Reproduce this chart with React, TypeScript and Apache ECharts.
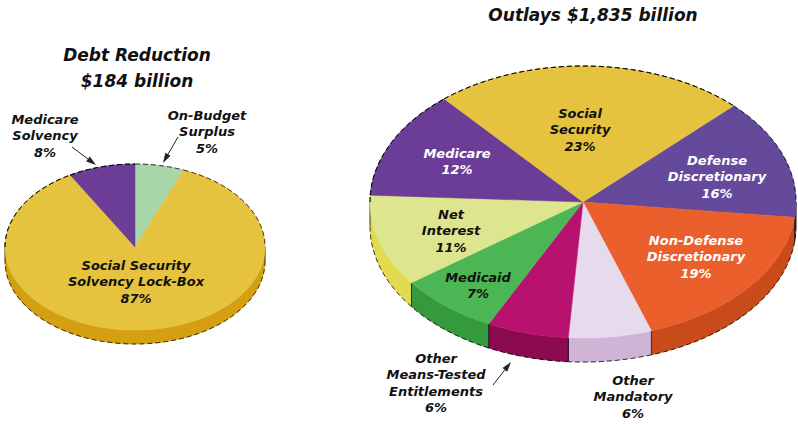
import React, { useEffect, useRef } from "react";
import * as echarts from "echarts";

const leftNames = ["On-Budget Surplus", "Social Security Solvency Lock-Box", "Medicare Solvency"];
const leftShares = [6.1, 85.6, 8.3];
const leftColors = ["#a7d6a8", "#e5c33e", "#6c3d97"];
const leftWalls = ["#7fb481", "#d4a012", "#4e2c70"];

const rightNames = ["Defense Discretionary", "Non-Defense Discretionary", "Other Mandatory", "Other Means-Tested Entitlements", "Medicaid", "Net Interest", "Medicare", "Social Security"];
const rightShares = [14.3, 18.0, 6.3, 6.2, 7.6, 10.9, 12.9, 23.8];
const rightColors = ["#654a9c", "#ea5f2b", "#e6dbec", "#b8126e", "#4cb654", "#dde58f", "#6c3d97", "#e5c33e"];
const rightWalls = ["#4e3a80", "#c94b1b", "#cfb5d5", "#8c0a4f", "#359a3e", "#e3db4f", "#4e2c70", "#d4a012"];

const FONT = "'DejaVu Sans'";
const titleStyle = { fontFamily: FONT, fontStyle: "italic", fontWeight: 700, fontSize: 17 };
const labelStyle = { fontFamily: FONT, fontStyle: "italic", fontWeight: 700, fontSize: 13 };

type Pie = { cx: number; cy: number; rx: number; ry: number; depth: number; start: number };
const leftPie: Pie = { cx: 135, cy: 247, rx: 130, ry: 83, depth: 14, start: 0 };
const rightPie: Pie = { cx: 583, cy: 202, rx: 213, ry: 136, depth: 24, start: 45 };

function pt(p: Pie, deg: number, dy = 0): number[] {
  const r = (deg * Math.PI) / 180;
  return [p.cx + p.rx * Math.sin(r), p.cy - p.ry * Math.cos(r) + dy];
}
function arc(p: Pie, a: number, b: number, dy = 0): number[][] {
  const out: number[][] = [];
  const n = Math.max(1, Math.ceil(b - a));
  for (let i = 0; i <= n; i++) out.push(pt(p, a + ((b - a) * i) / n, dy));
  return out;
}
function pieSeries(p: Pie, names: string[], shares: number[], colors: string[], walls: string[]) {
  const total = shares.reduce((s, v) => s + v, 0);
  const bounds: number[] = [p.start];
  shares.forEach((v) => bounds.push(bounds[bounds.length - 1] + (v / total) * 360));
  const data = names.map((name, i) => ({ name, value: [shares[i]] }));
  const frontRange = (a: number, b: number): number[] | null => {
    for (const k of [0, 360]) {
      const s = Math.max(a, 90 + k);
      const e = Math.min(b, 270 + k);
      if (e > s) return [s, e];
    }
    return null;
  };
  const wall = {
    type: "custom" as const,
    coordinateSystem: "none",
    silent: true,
    z: 1,
    data,
    renderItem: (params: any) => {
      const i = params.dataIndex;
      const children: any[] = [];
      const r = frontRange(bounds[i], bounds[i + 1]);
      if (r) {
        const pts = [...arc(p, r[0], r[1]), ...arc(p, r[0], r[1], p.depth).reverse()];
        children.push({ type: "polygon", shape: { points: pts }, style: { fill: walls[i], stroke: walls[i], lineWidth: 0.5 } });
        children.push({ type: "polyline", shape: { points: arc(p, r[0], r[1], p.depth) }, style: { fill: "none", stroke: "#000", lineWidth: 0.8, lineDash: [5, 3] } });
        [r[0], r[1]].forEach((d) => {
          const a = pt(p, d);
          children.push({ type: "line", shape: { x1: a[0], y1: a[1], x2: a[0], y2: a[1] + p.depth }, style: { stroke: "#111", lineWidth: 0.8 } });
        });
      }
      return { type: "group", children };
    },
  };
  const top = {
    type: "custom" as const,
    coordinateSystem: "none",
    silent: true,
    z: 2,
    data,
    renderItem: (params: any) => {
      const i = params.dataIndex;
      const a = bounds[i];
      const b = bounds[i + 1];
      const children: any[] = [
        { type: "polygon", shape: { points: [[p.cx, p.cy], ...arc(p, a, b)] }, style: { fill: colors[i], stroke: colors[i], lineWidth: 0.5 } },
      ];
      // dashed outline on the rear edge of the top face
      const rearA = [a, Math.min(b, 90)];
      const rearB = [Math.max(a, 270), b];
      const rearC = [Math.max(a, 270), Math.min(b, 450)];
      [rearA, rearB, rearC].forEach((q, k) => {
        if (k === 1 && b > 450) return;
        if (q[1] > q[0]) children.push({ type: "polyline", shape: { points: arc(p, q[0], q[1]) }, style: { fill: "none", stroke: "#000", lineWidth: 0.8, lineDash: [5, 3] } });
      });
      return { type: "group", children };
    },
  };
  return [wall, top];
}

function multi(x: number, y: number, lines: string[], fill = "#111", step = 16.5) {
  return [{
    type: "text",
    x,
    y: y + ((lines.length - 1) * step) / 2,
    z: 10,
    style: { text: lines.join("\n"), fill, align: "center", verticalAlign: "middle", lineHeight: step, ...labelStyle },
  }];
}
function title(x: number, y: number, lines: string[]) {
  const step = 26;
  return { type: "text", x, y: y + ((lines.length - 1) * step) / 2, z: 10, style: { text: lines.join("\n"), fill: "#111", align: "center", verticalAlign: "middle", lineHeight: step, ...titleStyle } };
}
function arrow(x1: number, y1: number, x2: number, y2: number) {
  const ang = Math.atan2(y2 - y1, x2 - x1);
  const L = 10;
  const W = 3;
  const bx = x2 - L * Math.cos(ang);
  const by = y2 - L * Math.sin(ang);
  const nx = -Math.sin(ang) * W;
  const ny = Math.cos(ang) * W;
  return [
    { type: "line", z: 10, shape: { x1, y1, x2: bx, y2: by }, style: { stroke: "#222", lineWidth: 1 } },
    { type: "polygon", z: 10, shape: { points: [[x2, y2], [bx + nx, by + ny], [bx - nx, by - ny]] }, style: { fill: "#222" } },
  ];
}

export default function App() {
  const ref = useRef<HTMLDivElement>(null);
  useEffect(() => {
    const chart = echarts.init(ref.current!, null, { renderer: "svg" });
    chart.setOption({
      animation: false,
      backgroundColor: "#fff",
      series: [
        ...pieSeries(leftPie, leftNames, leftShares, leftColors, leftWalls),
        ...pieSeries(rightPie, rightNames, rightShares, rightColors, rightWalls),
      ],
      graphic: [
        title(137, 55, ["Debt Reduction", "$184 billion"]),
        title(593, 15, ["Outlays $1,835 billion"]),
        ...multi(45, 119, ["Medicare", "Solvency", "8%"]),
        ...multi(207, 115, ["On-Budget", "Surplus", "5%"]),
        ...multi(136, 265, ["Social Security", "Solvency Lock-Box", "87%"]),
        ...multi(580, 113, ["Social", "Security", "23%"]),
        ...multi(457, 153, ["Medicare", "12%"], "#fff"),
        ...multi(717, 160, ["Defense", "Discretionary", "16%"], "#fff"),
        ...multi(451, 214, ["Net", "Interest", "11%"]),
        ...multi(478, 277, ["Medicaid", "7%"]),
        ...multi(696, 240, ["Non-Defense", "Discretionary", "19%"], "#fff"),
        ...multi(436, 358, ["Other", "Means-Tested", "Entitlements", "6%"]),
        ...multi(633, 380, ["Other", "Mandatory", "6%"]),
        ...arrow(72, 147, 96, 165),
        ...arrow(178, 137, 163, 163),
        ...arrow(493, 385, 511, 362),
      ],
    });
    return () => chart.dispose();
  }, []);
  return <div ref={ref} style={{ position: "absolute", left: 0, top: 0, width: 798, height: 424 }} />;
}
